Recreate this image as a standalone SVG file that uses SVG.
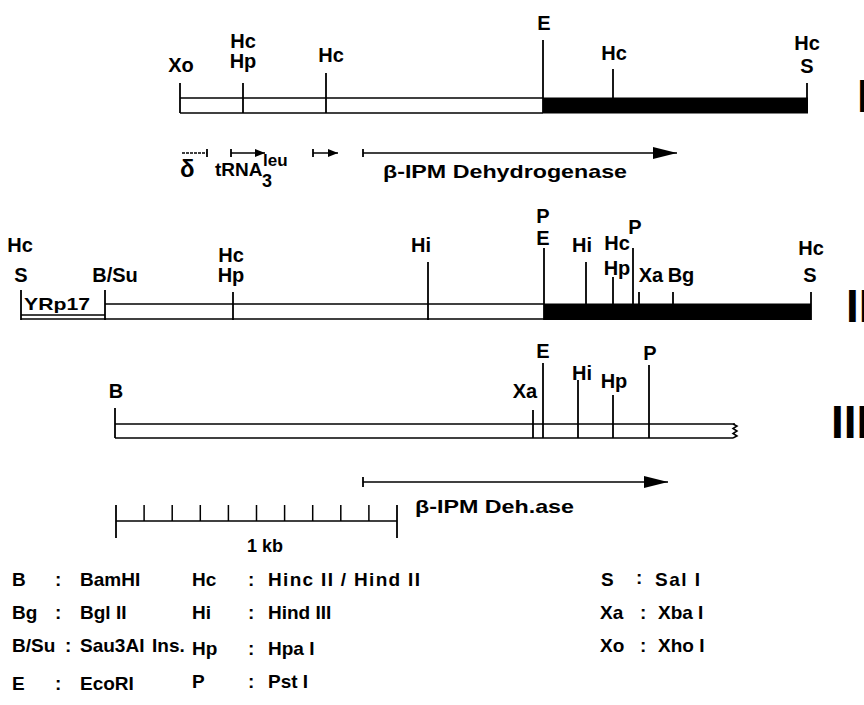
<svg xmlns="http://www.w3.org/2000/svg" width="864" height="705" viewBox="0 0 864 705">
<defs>
<style>
text{font-family:"Liberation Sans",Arial,sans-serif;font-weight:bold;fill:#000}
.l{font-size:20px;text-anchor:middle}
.lg{font-size:19px}
.rn{font-size:46px}
.ln{stroke:#000;stroke-width:1.5;fill:none}
.tk{stroke:#000;stroke-width:1.8;fill:none}
.blk{fill:#000}
</style>
<marker id="ah" viewBox="0 0 10 10" refX="10" refY="5" markerWidth="10" markerHeight="10" markerUnits="userSpaceOnUse" orient="auto"><path d="M0,1 L10,5 L0,9 Z" fill="#000"/></marker>
<marker id="ahb" viewBox="0 0 24 12" refX="24" refY="6" markerWidth="24" markerHeight="12" markerUnits="userSpaceOnUse" orient="auto"><path d="M0,0 L24,6 L0,12 Z" fill="#000"/></marker>
</defs>
<rect width="864" height="705" fill="#fff"/>

<g id="map1">
<line class="ln" x1="180" y1="98" x2="543" y2="98"/>
<line class="ln" x1="180" y1="113" x2="543" y2="113"/>
<rect class="blk" x="543" y="97.5" width="265" height="16"/>
<line class="tk" x1="180" y1="83" x2="180" y2="113"/>
<line class="tk" x1="243" y1="83" x2="243" y2="113"/>
<line class="tk" x1="326" y1="73" x2="326" y2="113"/>
<line class="tk" x1="543" y1="40" x2="543" y2="113"/>
<line class="tk" x1="613" y1="69" x2="613" y2="98"/>
<line class="tk" x1="807" y1="83" x2="807" y2="113"/>
<text class="l" x="181" y="72">Xo</text>
<text class="l" x="243" y="48">Hc</text>
<text class="l" x="243" y="68">Hp</text>
<text class="l" x="331" y="62">Hc</text>
<text class="l" x="544" y="30">E</text>
<text class="l" x="614" y="60">Hc</text>
<text class="l" x="807" y="50">Hc</text>
<text class="l" x="807" y="73">S</text>
<text class="rn" x="857" y="112">I</text>
</g>

<g id="genes1">
<text x="180" y="177" style="font-size:24px">δ</text>
<text x="215" y="176" style="font-size:19px">tRNA</text>
<text x="263" y="166" style="font-size:17px">leu</text>
<text x="262" y="187" style="font-size:18px">3</text>
<text x="383" y="178" style="font-size:19px" textLength="244" lengthAdjust="spacingAndGlyphs">β-IPM Dehydrogenase</text>
</g>

<g id="map2">
<line class="ln" x1="105" y1="304" x2="544" y2="304"/>
<line class="ln" x1="21" y1="319" x2="544" y2="319"/>
<line class="ln" x1="21" y1="315" x2="105" y2="315"/>
<rect class="blk" x="544" y="303.5" width="267" height="16.5"/>
<line class="tk" x1="21" y1="290" x2="21" y2="320"/>
<line class="tk" x1="105" y1="290" x2="105" y2="320"/>
<line class="tk" x1="233" y1="292" x2="233" y2="320"/>
<line class="tk" x1="428" y1="262" x2="428" y2="320"/>
<line class="tk" x1="544" y1="248" x2="544" y2="320"/>
<line class="tk" x1="586" y1="262" x2="586" y2="304"/>
<line class="tk" x1="613" y1="277" x2="613" y2="304"/>
<line class="tk" x1="633" y1="248" x2="633" y2="304"/>
<line class="tk" x1="639" y1="292" x2="639" y2="304"/>
<line class="tk" x1="673" y1="292" x2="673" y2="304"/>
<line class="tk" x1="811" y1="292" x2="811" y2="320"/>
<text x="24" y="310" style="font-size:17px" textLength="66" lengthAdjust="spacingAndGlyphs">YRp17</text>
<text class="l" x="20" y="252">Hc</text>
<text class="l" x="21" y="282">S</text>
<text class="l" x="115" y="282">B/Su</text>
<text class="l" x="231" y="262">Hc</text>
<text class="l" x="231" y="282">Hp</text>
<text class="l" x="421" y="252">Hi</text>
<text class="l" x="543" y="223">P</text>
<text class="l" x="543" y="245">E</text>
<text class="l" x="582" y="252">Hi</text>
<text class="l" x="617" y="250">Hc</text>
<text class="l" x="617" y="275">Hp</text>
<text class="l" x="635" y="234">P</text>
<text class="l" x="651" y="282">Xa</text>
<text class="l" x="681" y="282">Bg</text>
<text class="l" x="811" y="255">Hc</text>
<text class="l" x="810" y="282">S</text>
<text class="rn" x="846" y="322">II</text>
</g>

<g id="map3">
<line class="ln" x1="115" y1="424" x2="735" y2="424"/>
<line class="ln" x1="115" y1="438" x2="733" y2="438"/>
<path class="ln" d="M733,424 L737,426 L733,428.5 L737,431 L733,433.5 L737,436 L733,438"/>
<line class="tk" x1="115" y1="408" x2="115" y2="438"/>
<line class="tk" x1="533" y1="410" x2="533" y2="438"/>
<line class="tk" x1="543" y1="363" x2="543" y2="438"/>
<line class="tk" x1="578" y1="380" x2="578" y2="438"/>
<line class="tk" x1="613" y1="395" x2="613" y2="438"/>
<line class="tk" x1="649" y1="365" x2="649" y2="438"/>
<text class="l" x="116" y="398">B</text>
<text class="l" x="525" y="398">Xa</text>
<text class="l" x="543" y="358">E</text>
<text class="l" x="582" y="380">Hi</text>
<text class="l" x="614" y="388">Hp</text>
<text class="l" x="650" y="360">P</text>
<text class="rn" x="831" y="438">III</text>
</g>

<g id="connectors">
<line class="ln" x1="182" y1="153" x2="207" y2="153" stroke-dasharray="3,1"/>
<line class="tk" x1="207" y1="149" x2="207" y2="157"/>
<line class="ln" x1="231" y1="153" x2="265" y2="153" marker-end="url(#ah)"/>
<line class="tk" x1="231" y1="149" x2="231" y2="157"/>
<line class="ln" x1="313" y1="153" x2="338" y2="153" marker-end="url(#ah)"/>
<line class="tk" x1="313" y1="149" x2="313" y2="157"/>
<line class="ln" x1="363" y1="153" x2="677" y2="153" marker-end="url(#ahb)"/>
<line class="tk" x1="363" y1="149" x2="363" y2="157"/>
<line class="ln" x1="363" y1="482" x2="668" y2="482" marker-end="url(#ahb)"/>
<line class="tk" x1="363" y1="477" x2="363" y2="487"/>
</g>

<g id="gene3">
<text x="415" y="513" style="font-size:19px" textLength="159" lengthAdjust="spacingAndGlyphs">β-IPM Deh.ase</text>
</g>

<g id="scale">
<line class="ln" x1="116" y1="521" x2="397" y2="521"/>
<line class="tk" x1="116" y1="505" x2="116" y2="538"/>
<line class="tk" x1="397" y1="505" x2="397" y2="538"/>
<path class="ln" d="M144.1,505V521M172.2,505V521M200.3,505V521M228.4,505V521M256.5,505V521M284.6,505V521M312.7,505V521M340.8,505V521M368.9,505V521"/>
<text x="247" y="552" style="font-size:18px">1 kb</text>
</g>

<g id="legend">
<text class="lg" x="12" y="586">B</text><text class="lg" x="55" y="586">:</text><text class="lg" x="80" y="586">BamHI</text>
<text class="lg" x="192" y="586">Hc</text><text class="lg" x="248" y="586">:</text><text class="lg" x="268" y="586" textLength="152" lengthAdjust="spacing">Hinc II / Hind II</text>
<text class="lg" x="601" y="586">S</text><text class="lg" x="636" y="584">:</text><text class="lg" x="655" y="586" textLength="45" lengthAdjust="spacing">Sal I</text>
<text class="lg" x="12" y="619">Bg</text><text class="lg" x="55" y="619">:</text><text class="lg" x="80" y="619">Bgl II</text>
<text class="lg" x="192" y="619">Hi</text><text class="lg" x="248" y="619">:</text><text class="lg" x="268" y="619">Hind III</text>
<text class="lg" x="600" y="619">Xa</text><text class="lg" x="640" y="619">:</text><text class="lg" x="658" y="619">Xba I</text>
<text class="lg" x="12" y="652">B/Su</text><text class="lg" x="65" y="652">:</text><text class="lg" x="80" y="652">Sau3AI</text><text class="lg" x="152" y="652">Ins.</text>
<text class="lg" x="192" y="655">Hp</text><text class="lg" x="248" y="655">:</text><text class="lg" x="268" y="655">Hpa I</text>
<text class="lg" x="600" y="652">Xo</text><text class="lg" x="640" y="652">:</text><text class="lg" x="658" y="652">Xho I</text>
<text class="lg" x="12" y="690">E</text><text class="lg" x="55" y="690">:</text><text class="lg" x="80" y="690">EcoRI</text>
<text class="lg" x="192" y="688">P</text><text class="lg" x="248" y="688">:</text><text class="lg" x="268" y="688">Pst I</text>
</g>
</svg>
